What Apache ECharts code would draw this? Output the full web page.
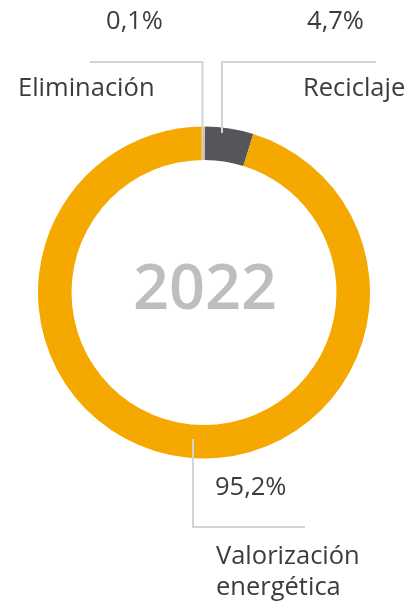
<!DOCTYPE html>
<html>
<head>
<meta charset="utf-8">
<script src="https://cdn.jsdelivr.net/npm/echarts@6/dist/echarts.min.js"></script>
<style>
  html, body { margin: 0; padding: 0; background: #fff; }
  #chart { width: 412px; height: 606px; }
</style>
</head>
<body>
<div id="chart"></div>
<script>
// datos del gráfico
const categories = ['Eliminación', 'Reciclaje', 'Valorización energética']
const values = [0.1, 4.7, 95.2]
const colors = ['#C9C9C9', '#55565A', '#F5A800']
const yearLabel = '2022'

const fmt = v => v.toFixed(1).replace('.', ',') + '%'
const font = '"Open Sans", sans-serif'
const textColor = '#3c3c3c'
const lineColor = '#D3D3D3'

var chart = echarts.init(document.getElementById('chart'), null, { renderer: 'canvas' })

// etiquetas con línea guía (anotación)
function labelText(x, y, text, align) {
  return {
    type: 'text',
    x: x,
    y: y,
    style: {
      text: text,
      fill: textColor,
      font: '400 25.5px ' + font,
      align: align || 'left',
      verticalAlign: 'middle'
    },
    z: 10
  }
}
function guide(points) {
  return {
    type: 'polyline',
    shape: { points: points },
    style: { stroke: lineColor, lineWidth: 2, fill: null },
    z: 10
  }
}

chart.setOption({
  backgroundColor: '#fff',
  animation: false,
  series: [{
    type: 'pie',
    center: [204, 292.5],
    radius: [132.5, 166],
    startAngle: 90,
    clockwise: true,
    avoidLabelOverlap: false,
    label: { show: false },
    labelLine: { show: false },
    emphasis: { disabled: true },
    data: categories.map((c, i) => ({
      name: c,
      value: values[i],
      itemStyle: { color: colors[i] }
    }))
  }],
  graphic: [
    {
      type: 'text',
      x: 205,
      y: 291,
      style: {
        text: yearLabel,
        fill: '#BEBEC0',
        font: '600 63px ' + font,
        align: 'center',
        verticalAlign: 'middle'
      }
    },
    // Eliminación
    guide([[202.5, 160], [202.5, 62], [90, 62]]),
    labelText(134.5, 22, fmt(values[0]), 'center'),
    labelText(18, 89, categories[0]),
    // Reciclaje
    guide([[222, 133], [222, 62], [376, 62]]),
    labelText(335.5, 22, fmt(values[1]), 'center'),
    labelText(303, 89, categories[1]),
    // Valorización energética
    guide([[193, 439], [193, 527], [305, 527]]),
    labelText(215, 488, fmt(values[2])),
    labelText(216, 557, 'Valorización'),
    labelText(216, 588, 'energética')
  ]
})
</script>
</body>
</html>
